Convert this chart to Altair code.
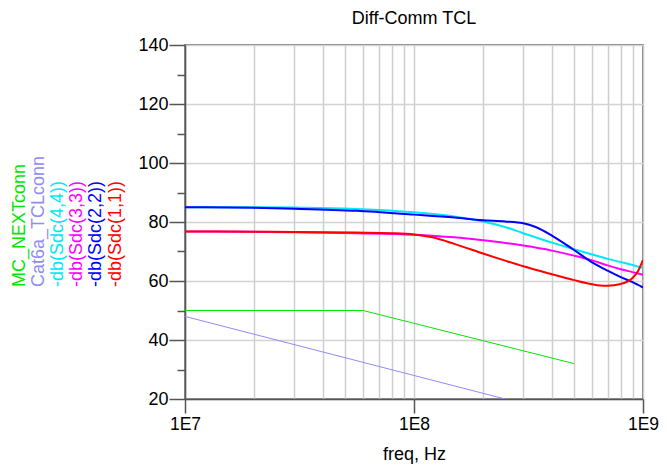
import altair as alt
import pandas as pd

FONT = "Liberation Sans"

# ---- data ----
f_sdc44 = [1e7, 2e7, 3e7, 5.6e7, 1e8, 1.5e8, 2e8, 2.5e8, 3e8, 4e8, 5e8, 6e8, 7e8, 8e8, 9e8, 1e9]
v_sdc44 = [85.0, 85.0, 84.9, 84.4, 83.3, 81.9, 80.2, 78.3, 76.2, 73.0, 70.8, 69.0, 67.5, 66.4, 65.4, 64.4]

f_sdc33 = [1e7, 2e7, 3e7, 5.6e7, 1e8, 1.5e8, 2e8, 2.5e8, 3e8, 4e8, 5e8, 6e8, 7e8, 8e8, 9e8, 1e9]
v_sdc33 = [76.8, 76.7, 76.5, 76.2, 75.7, 74.8, 73.8, 72.9, 72.0, 70.3, 68.6, 67.0, 65.3, 64.0, 63.0, 62.1]

f_sdc22 = [1e7, 2e7, 3e7, 5.6e7, 1e8, 1.5e8, 2e8, 2.5e8, 3e8, 3.4e8, 4e8, 5e8, 6e8, 7e8, 8e8, 9e8, 1e9]
v_sdc22 = [85.0, 84.8, 84.5, 83.8, 82.5, 81.5, 80.6, 80.2, 79.6, 78.3, 75.4, 70.5, 66.3, 63.5, 61.3, 59.6, 57.8]

f_sdc11 = [1e7, 2e7, 3e7, 5.6e7, 8e7, 1e8, 1.2e8, 1.5e8, 2e8, 2.5e8, 3e8, 4e8, 5e8, 6e8, 6.5e8, 7e8, 8e8, 9e8, 9.5e8, 1e9]
v_sdc11 = [76.8, 76.7, 76.6, 76.4, 76.2, 75.8, 74.8, 72.6, 69.3, 66.9, 65.0, 62.3, 60.3, 58.9, 58.5, 58.4, 59.0, 61.0, 63.3, 67.2]

f_next = [1e7, 6e7, 5e8]
v_next = [50.0, 50.0, 32.0]

f_tcl = [1e7, 2.5e8]
v_tcl = [48.0, 20.0]

series_names = ["MC_NEXTconn", "Cat6a_TCLconn", "-db(Sdc(4,4))",
                "-db(Sdc(3,3))", "-db(Sdc(2,2))", "-db(Sdc(1,1))"]
series_colors = ["#00e600", "#8f8cf5", "#00e8f8", "#ff00ff", "#0000ff", "#ff0000"]
series_widths = [1.0, 1.0, 2.0, 2.0, 2.0, 2.0]
series_data = [(f_next, v_next), (f_tcl, v_tcl), (f_sdc44, v_sdc44),
               (f_sdc33, v_sdc33), (f_sdc22, v_sdc22), (f_sdc11, v_sdc11)]

x_ticks = [1e7, 2e7, 3e7, 4e7, 5e7, 6e7, 7e7, 8e7, 9e7,
           1e8, 2e8, 3e8, 4e8, 5e8, 6e8, 7e8, 8e8, 9e8, 1e9]
y_ticks = [20, 30, 40, 50, 60, 70, 80, 90, 100, 110, 120, 130, 140]

W, H = 458, 354
PAD_L, PAD_T = 177, 37
PAD_R = 651 - PAD_L - W
PAD_B = 459 - PAD_T - H

decade = "datum.value == 10000000 || datum.value == 100000000 || datum.value == 1000000000"
major_y = "datum.value % 20 == 0"

x_scale = alt.Scale(type="log", domain=[1e7, 1e9], nice=False)
y_scale = alt.Scale(domain=[20, 140], nice=False, zero=False)

x_axis = alt.Axis(
    values=x_ticks, title="freq, Hz",
    labelExpr="datum.value == 10000000 ? '1E7' : datum.value == 100000000 ? '1E8' : datum.value == 1000000000 ? '1E9' : ''",
    grid=True, gridColor="#cdcdcd", gridWidth=1.5,
    tickSize=14, tickColor="#555555", tickWidth=1.5,
    tickOpacity={"condition": {"test": decade, "value": 1}, "value": 0},
    domainColor="#555555", domainWidth=1.5,
    labelFont=FONT, labelFontSize=17.5, labelColor="black", labelPadding=2,
    labelFlush=False, labelOverlap=False,
    titleFont=FONT, titleFontSize=18, titleFontWeight="normal", titleColor="black",
    titlePadding=13,
)
y_axis = alt.Axis(
    values=y_ticks, title=None,
    labelExpr="datum.value % 20 == 0 ? datum.label : ''",
    grid=True, gridColor="#d3d3d3", gridWidth=1.5,
    gridOpacity={"condition": {"test": major_y, "value": 1}, "value": 0},
    tickSize={"condition": {"test": major_y, "value": 16}, "value": 8},
    tickColor="#555555", tickWidth=1.5,
    domainColor="#555555", domainWidth=1.5,
    labelFont=FONT, labelFontSize=18, labelColor="black", labelPadding=1,
    labelFlush=False, labelOverlap=False,
)

layers = []
for i, (name, color, sw, (fs, vs)) in enumerate(zip(series_names, series_colors, series_widths, series_data)):
    df = pd.DataFrame({"freq": fs, "val": vs, "series": name})
    interp = "linear" if sw < 1.5 else "monotone"
    ch = alt.Chart(df).mark_line(color=color, strokeWidth=sw, clip=True, interpolate=interp).encode(
        x=alt.X("freq:Q", scale=x_scale, axis=x_axis),
        y=alt.Y("val:Q", scale=y_scale, axis=y_axis),
    )
    layers.append(ch)

# rotated legend labels on the left
legend_x0 = -165.5
legend_dx = 19.2
for i, (name, color) in enumerate(zip(series_names, series_colors)):
    t = alt.Chart(pd.DataFrame({"label": [name]})).mark_text(
        angle=270, align="left", baseline="middle", font=FONT, fontSize=18, color=color,
    ).encode(
        text="label:N",
        x=alt.value(legend_x0 + i * legend_dx),
        y=alt.value(242),
    )
    layers.append(t)

chart = alt.layer(*layers).properties(
    width=W, height=H,
    autosize=alt.AutoSizeParams(type="none"),
    padding={"left": PAD_L, "top": PAD_T, "right": PAD_R, "bottom": PAD_B},
    title=alt.TitleParams("Diff-Comm TCL", font=FONT, fontSize=18, fontWeight="normal",
                          color="black", anchor="middle", offset=8),
).configure_view(stroke="#555555", strokeWidth=1.5)

chart.save("out.html", embed_options={"renderer": "svg", "actions": False})
